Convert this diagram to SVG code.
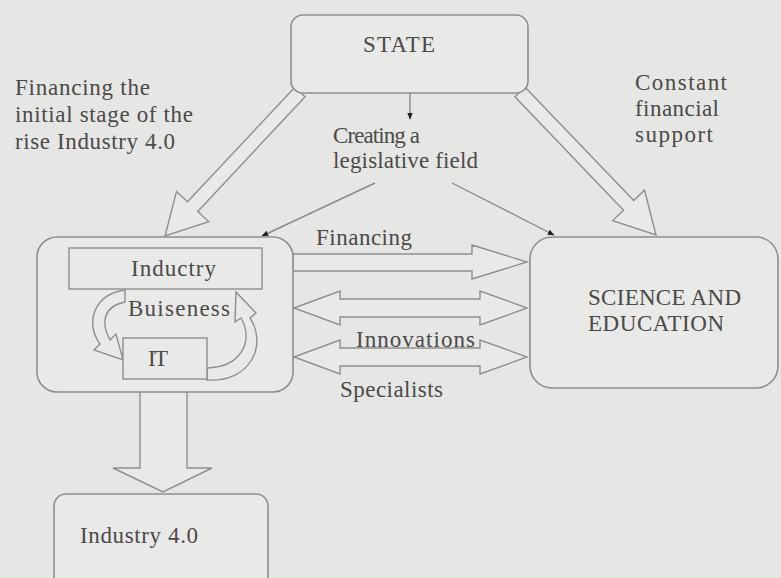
<svg xmlns="http://www.w3.org/2000/svg" width="781" height="578" viewBox="0 0 781 578">
<defs>
<style>
.bg{fill:#e6e6e4}
.box{fill:#e9e9e7;stroke:#8e8e8e;stroke-width:1.6}
.inner{fill:#e9e9e7;stroke:#8e8e8e;stroke-width:1.4}
.ha{fill:#e9e9e7;stroke:#8e8e8e;stroke-width:1.4;stroke-linejoin:miter}
.ln{fill:none;stroke:#8a8a8a;stroke-width:1.4}
text{font-family:"Liberation Serif","Times New Roman",serif;fill:#4a4a4a;font-size:23px}
</style>
<marker id="ah" viewBox="0 0 10 10" refX="9" refY="5" markerWidth="7" markerHeight="7" orient="auto" markerUnits="userSpaceOnUse">
<path d="M0,1 L10,5 L0,9 Z" fill="#222"/>
</marker>
</defs>
<rect class="bg" x="0" y="0" width="781" height="578"/>

<g id="connectors">
<polygon class="ha" points="294.9,87.2 187.5,201.8 176.5,191.6 165,236 208.7,221.6 197.7,211.4 305.1,96.8"/>
<polygon class="ha" points="525.1,87.2 633.7,200.6 644.5,190.2 656,235 612.7,220.6 623.5,210.2 514.9,96.8"/>
<line class="ln" x1="410" y1="93" x2="410" y2="119" marker-end="url(#ah)"/>
<line class="ln" x1="375" y1="183" x2="262" y2="236" marker-end="url(#ah)"/>
<line class="ln" x1="452" y1="183" x2="554" y2="235" marker-end="url(#ah)"/>
<polygon class="ha" points="293,254 472,254 472,245 527,262 472,279 472,271 293,271"/>
<polygon class="ha" points="294,308 340,291 340,299 480,299 480,291 527,308 480,325 480,317 340,317 340,325"/>
<polygon class="ha" points="294,357 340,340 340,348 480,348 480,340 527,357 480,374 480,366 340,366 340,374"/>
<polygon class="ha" points="140,391 140,468 113,468 163,492 212,468 187,468 187,391"/>
</g>

<g id="state">
<rect class="box" x="291" y="15" width="237" height="78" rx="12"/>
<text x="399" y="52" text-anchor="middle" font-size="22" textLength="72">STATE</text>
</g>

<g id="industry-group">
<rect class="box" x="37" y="237" width="256" height="155" rx="20"/>
<g id="inductry">
<rect class="inner" x="69" y="248" width="193" height="41"/>
<text x="131" y="276" textLength="85">Inductry</text>
</g>
<g id="cycle">
<path class="ha" d="M125,290 C95,294 84,322 100,344 L94,350 L123,360 L116,334 L110,340 C100,322 104,306 125,302 Z"/>
<path class="ha" d="M207,380 C250,383 268,345 250,318 L256,313 L236,292 L235,322 L241,318 C254,340 242,367 207,368 Z"/>
<text x="128" y="316" textLength="102">Buiseness</text>
</g>
<g id="it">
<rect class="inner" x="123" y="338" width="84" height="41"/>
<text x="148" y="366" font-size="21" textLength="20">IT</text>
</g>
</g>

<g id="science">
<rect class="box" x="530" y="237" width="248" height="151" rx="22"/>
<text x="588" y="305" textLength="153">SCIENCE AND</text>
<text x="588" y="331" textLength="136">EDUCATION</text>
</g>

<g id="industry40">
<rect class="box" x="54" y="494" width="214" height="110" rx="12"/>
<text x="80" y="543" textLength="118">Industry 4.0</text>
</g>

<g id="labels">
<text x="15" y="95" textLength="135">Financing the</text>
<text x="15" y="122" textLength="178">initial stage of the</text>
<text x="15" y="149" textLength="160">rise Industry 4.0</text>
<text x="635" y="90" textLength="92">Constant</text>
<text x="635" y="116" textLength="84">financial</text>
<text x="635" y="142" textLength="78">support</text>
<text x="333" y="143" font-size="21" textLength="87">Creating a</text>
<text x="333" y="168" font-size="22" textLength="145">legislative field</text>
<text x="316" y="245" textLength="96">Financing</text>
<text x="356" y="347" font-size="24" textLength="119">Innovations</text>
<text x="340" y="397" textLength="103">Specialists</text>
</g>
</svg>
